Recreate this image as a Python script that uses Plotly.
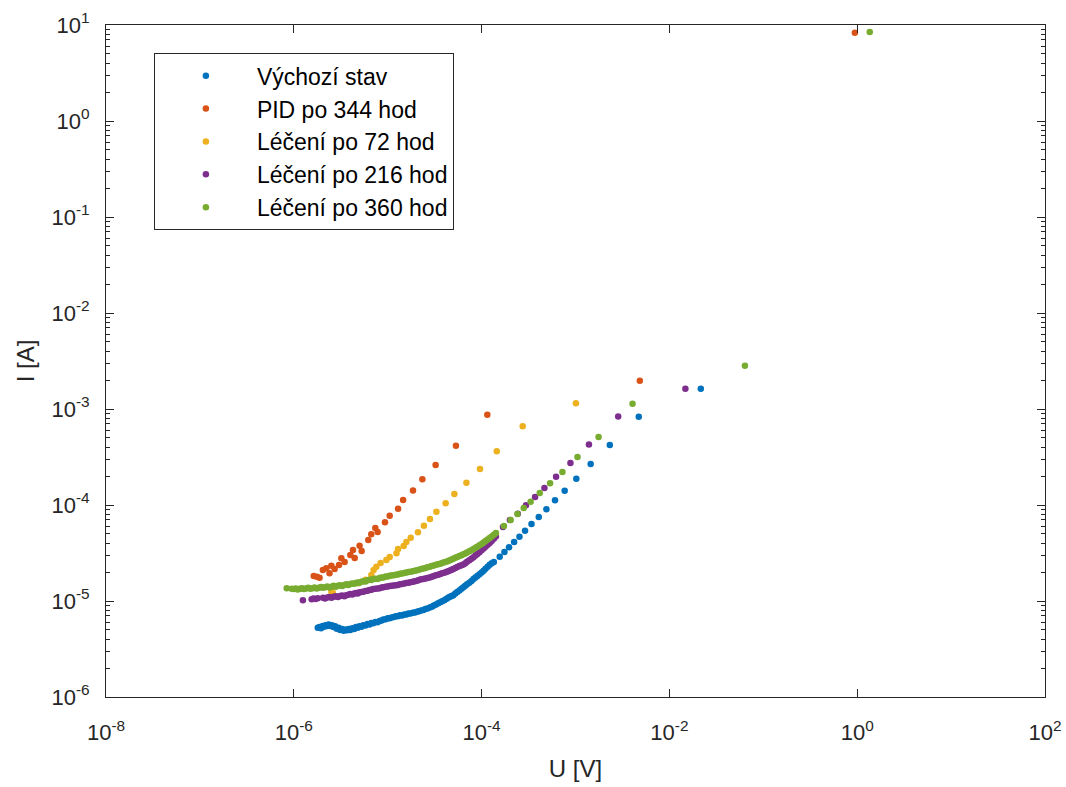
import plotly.graph_objects as go

# I-U measurements (U in volts, I in amperes) for each state of the sample
vychozi_stav = [
    (1.80e-6, 5.25e-6), (1.88e-6, 5.35e-6), (1.95e-6, 5.20e-6), (2.03e-6, 5.50e-6),
    (2.10e-6, 5.40e-6), (2.18e-6, 5.60e-6), (2.26e-6, 5.50e-6), (2.35e-6, 5.70e-6),
    (2.45e-6, 5.50e-6), (2.55e-6, 5.60e-6), (2.65e-6, 5.35e-6), (2.75e-6, 5.45e-6),
    (2.87e-6, 5.15e-6), (3.00e-6, 5.25e-6), (3.12e-6, 5.00e-6), (3.25e-6, 5.10e-6),
    (3.40e-6, 4.90e-6), (3.55e-6, 5.05e-6), (3.70e-6, 4.95e-6), (3.85e-6, 5.10e-6),
    (4.00e-6, 5.00e-6), (4.20e-6, 5.20e-6), (4.40e-6, 5.10e-6), (4.60e-6, 5.35e-6),
    (4.80e-6, 5.25e-6), (5.00e-6, 5.45e-6), (5.25e-6, 5.40e-6), (5.50e-6, 5.60e-6),
    (5.80e-6, 5.55e-6), (6.10e-6, 5.75e-6), (6.40e-6, 5.70e-6), (6.70e-6, 5.90e-6),
    (7.00e-6, 5.85e-6), (7.40e-6, 6.05e-6), (7.80e-6, 6.00e-6), (8.20e-6, 6.20e-6),
    (8.60e-6, 6.25e-6), (9.00e-6, 6.40e-6), (9.50e-6, 6.45e-6),
    (1.00e-5, 6.60e-6), (1.05e-5, 6.60e-6), (1.10e-5, 6.75e-6), (1.16e-5, 6.80e-6),
    (1.22e-5, 6.95e-6), (1.28e-5, 6.95e-6), (1.35e-5, 7.10e-6), (1.42e-5, 7.05e-6),
    (1.50e-5, 7.25e-6), (1.58e-5, 7.25e-6), (1.66e-5, 7.40e-6), (1.75e-5, 7.40e-6),
    (1.85e-5, 7.55e-6), (1.95e-5, 7.60e-6), (2.05e-5, 7.75e-6), (2.15e-5, 7.80e-6),
    (2.27e-5, 7.95e-6), (2.40e-5, 8.05e-6), (2.52e-5, 8.25e-6), (2.65e-5, 8.35e-6),
    (2.80e-5, 8.55e-6), (2.95e-5, 8.70e-6), (3.10e-5, 8.95e-6), (3.27e-5, 9.20e-6),
    (3.45e-5, 9.45e-6), (3.62e-5, 9.70e-6), (3.80e-5, 9.95e-6), (4.00e-5, 1.02e-5),
    (4.20e-5, 1.05e-5), (4.40e-5, 1.08e-5), (4.60e-5, 1.11e-5), (4.80e-5, 1.13e-5),
    (5.00e-5, 1.15e-5), (5.25e-5, 1.20e-5), (5.50e-5, 1.24e-5), (5.80e-5, 1.29e-5),
    (6.10e-5, 1.34e-5), (6.40e-5, 1.39e-5), (6.70e-5, 1.44e-5), (7.00e-5, 1.49e-5),
    (7.40e-5, 1.55e-5), (7.80e-5, 1.62e-5), (8.20e-5, 1.69e-5), (8.60e-5, 1.76e-5),
    (9.00e-5, 1.82e-5), (9.50e-5, 1.90e-5),
    (1.00e-4, 1.98e-5), (1.05e-4, 2.07e-5), (1.10e-4, 2.17e-5), (1.16e-4, 2.28e-5),
    (1.22e-4, 2.38e-5), (1.28e-4, 2.47e-5), (1.35e-4, 2.55e-5),
    (1.56e-4, 2.89e-5), (1.75e-4, 3.24e-5), (1.96e-4, 3.62e-5), (2.22e-4, 4.12e-5),
    (2.53e-4, 4.68e-5), (2.90e-4, 5.40e-5), (3.40e-4, 6.34e-5), (4.06e-4, 7.50e-5),
    (4.90e-4, 9.02e-5), (6.05e-4, 1.12e-4), (7.67e-4, 1.41e-4), (1.02e-3, 1.88e-4),
    (1.45e-3, 2.67e-4), (2.32e-3, 4.22e-4), (4.72e-3, 8.32e-4), (2.16e-2, 1.63e-3),
]

pid_344 = [
    (1.63e-6, 1.82e-5), (1.76e-6, 1.79e-5), (1.88e-6, 1.75e-5), (2.04e-6, 2.10e-5),
    (2.22e-6, 2.19e-5), (2.40e-6, 1.94e-5), (2.51e-6, 2.33e-5), (2.72e-6, 2.15e-5),
    (3.03e-6, 2.37e-5), (3.21e-6, 2.79e-5), (3.48e-6, 2.55e-5), (4.00e-6, 3.01e-5),
    (4.27e-6, 3.40e-5), (4.45e-6, 2.81e-5), (5.02e-6, 3.77e-5), (5.28e-6, 3.32e-5),
    (6.21e-6, 4.32e-5), (6.68e-6, 4.95e-5), (7.38e-6, 5.75e-5), (7.81e-6, 5.24e-5),
    (9.35e-6, 6.61e-5), (1.05e-5, 7.74e-5), (1.29e-5, 9.14e-5), (1.46e-5, 1.13e-4),
    (1.86e-5, 1.42e-4), (2.34e-5, 1.85e-4), (3.24e-5, 2.61e-4), (5.33e-5, 4.15e-4),
    (1.15e-4, 8.71e-4), (4.84e-3, 1.97e-3), (0.944, 8.32),
]

leceni_72 = [
    (2.51e-6, 1.25e-5), (2.60e-6, 1.22e-5), (4.82e-6, 1.53e-5), (5.82e-6, 1.66e-5),
    (6.70e-6, 1.87e-5), (7.08e-6, 2.10e-5), (7.57e-6, 2.28e-5), (8.41e-6, 2.49e-5),
    (9.68e-6, 2.67e-5), (1.05e-5, 2.87e-5), (1.24e-5, 3.14e-5), (1.29e-5, 3.48e-5),
    (1.48e-5, 3.74e-5), (1.58e-5, 4.12e-5), (1.76e-5, 4.56e-5), (2.10e-5, 5.20e-5),
    (2.43e-5, 6.08e-5), (2.82e-5, 7.14e-5), (3.30e-5, 8.51e-5), (4.14e-5, 1.04e-4),
    (5.13e-5, 1.30e-4), (6.89e-5, 1.71e-4), (9.62e-5, 2.37e-4), (1.45e-4, 3.62e-4),
    (2.74e-4, 6.61e-4), (1.01e-3, 1.15e-3),
]

leceni_216 = [
    (1.25e-6, 1.02e-5), (1.55e-6, 1.04e-5), (1.62e-6, 1.06e-5), (1.70e-6, 1.05e-5),
    (1.80e-6, 1.07e-5), (2.05e-6, 1.08e-5), (2.15e-6, 1.06e-5), (2.27e-6, 1.09e-5),
    (2.40e-6, 1.10e-5), (2.52e-6, 1.08e-5), (2.65e-6, 1.11e-5), (2.80e-6, 1.12e-5),
    (2.95e-6, 1.10e-5), (3.10e-6, 1.13e-5), (3.27e-6, 1.14e-5), (3.45e-6, 1.12e-5),
    (3.62e-6, 1.15e-5), (3.80e-6, 1.16e-5), (4.00e-6, 1.18e-5), (4.20e-6, 1.17e-5),
    (4.40e-6, 1.20e-5), (4.60e-6, 1.21e-5), (4.80e-6, 1.20e-5), (5.00e-6, 1.23e-5),
    (5.25e-6, 1.24e-5), (5.50e-6, 1.25e-5), (5.80e-6, 1.27e-5), (6.10e-6, 1.28e-5),
    (6.40e-6, 1.30e-5), (6.70e-6, 1.31e-5), (7.00e-6, 1.33e-5), (7.40e-6, 1.34e-5),
    (7.80e-6, 1.35e-5), (8.20e-6, 1.36e-5), (8.60e-6, 1.38e-5), (9.00e-6, 1.39e-5),
    (9.50e-6, 1.41e-5),
    (1.00e-5, 1.42e-5), (1.05e-5, 1.43e-5), (1.10e-5, 1.44e-5), (1.16e-5, 1.45e-5),
    (1.22e-5, 1.46e-5), (1.28e-5, 1.47e-5), (1.35e-5, 1.49e-5), (1.42e-5, 1.50e-5),
    (1.50e-5, 1.52e-5), (1.58e-5, 1.54e-5), (1.66e-5, 1.55e-5), (1.75e-5, 1.57e-5),
    (1.85e-5, 1.59e-5), (1.95e-5, 1.61e-5), (2.05e-5, 1.63e-5), (2.15e-5, 1.65e-5),
    (2.27e-5, 1.68e-5), (2.40e-5, 1.70e-5), (2.52e-5, 1.72e-5), (2.65e-5, 1.74e-5),
    (2.80e-5, 1.76e-5), (2.95e-5, 1.79e-5), (3.10e-5, 1.82e-5), (3.27e-5, 1.85e-5),
    (3.45e-5, 1.88e-5), (3.62e-5, 1.91e-5), (3.80e-5, 1.94e-5), (4.00e-5, 1.97e-5),
    (4.20e-5, 2.00e-5), (4.40e-5, 2.04e-5), (4.60e-5, 2.08e-5), (4.80e-5, 2.12e-5),
    (5.00e-5, 2.16e-5), (5.25e-5, 2.21e-5), (5.50e-5, 2.26e-5), (5.80e-5, 2.31e-5),
    (6.10e-5, 2.36e-5), (6.40e-5, 2.40e-5), (6.70e-5, 2.48e-5), (7.00e-5, 2.56e-5),
    (7.40e-5, 2.66e-5), (7.80e-5, 2.76e-5), (8.20e-5, 2.86e-5), (8.60e-5, 2.97e-5),
    (9.00e-5, 3.08e-5), (9.50e-5, 3.22e-5),
    (1.00e-4, 3.37e-5), (1.05e-4, 3.52e-5), (1.10e-4, 3.68e-5), (1.16e-4, 3.86e-5),
    (1.22e-4, 4.02e-5), (1.28e-4, 4.22e-5), (1.35e-4, 4.45e-5), (1.42e-4, 4.70e-5),
    (1.69e-4, 5.90e-5), (2.00e-4, 6.98e-5), (2.43e-4, 8.11e-5), (2.97e-4, 9.93e-5),
    (3.71e-4, 1.21e-4), (4.67e-4, 1.50e-4), (6.21e-4, 1.97e-4), (8.83e-4, 2.74e-4),
    (1.39e-3, 4.27e-4), (2.85e-3, 8.36e-4), (1.48e-2, 1.63e-3),
]

leceni_360 = [
    (8.40e-7, 1.36e-5), (9.50e-7, 1.34e-5), (1.00e-6, 1.33e-5), (1.05e-6, 1.35e-5),
    (1.10e-6, 1.32e-5), (1.16e-6, 1.34e-5), (1.22e-6, 1.36e-5), (1.28e-6, 1.33e-5),
    (1.35e-6, 1.35e-5), (1.42e-6, 1.37e-5), (1.50e-6, 1.34e-5), (1.58e-6, 1.36e-5),
    (1.66e-6, 1.38e-5), (1.75e-6, 1.35e-5), (1.85e-6, 1.37e-5), (1.95e-6, 1.40e-5),
    (2.05e-6, 1.37e-5), (2.15e-6, 1.39e-5), (2.27e-6, 1.42e-5), (2.40e-6, 1.38e-5),
    (2.52e-6, 1.41e-5), (2.65e-6, 1.44e-5), (2.80e-6, 1.41e-5), (2.95e-6, 1.44e-5),
    (3.10e-6, 1.46e-5), (3.27e-6, 1.43e-5), (3.45e-6, 1.47e-5), (3.62e-6, 1.49e-5),
    (3.80e-6, 1.47e-5), (4.00e-6, 1.50e-5), (4.20e-6, 1.52e-5), (4.40e-6, 1.51e-5),
    (4.60e-6, 1.54e-5), (4.80e-6, 1.56e-5), (5.00e-6, 1.55e-5), (5.25e-6, 1.59e-5),
    (5.50e-6, 1.61e-5), (5.80e-6, 1.60e-5), (6.10e-6, 1.64e-5), (6.40e-6, 1.66e-5),
    (6.70e-6, 1.65e-5), (7.00e-6, 1.69e-5), (7.40e-6, 1.71e-5), (7.80e-6, 1.70e-5),
    (8.20e-6, 1.74e-5), (8.60e-6, 1.76e-5), (9.00e-6, 1.76e-5), (9.50e-6, 1.80e-5),
    (1.00e-5, 1.80e-5), (1.05e-5, 1.83e-5), (1.10e-5, 1.84e-5), (1.16e-5, 1.86e-5),
    (1.22e-5, 1.88e-5), (1.28e-5, 1.89e-5), (1.35e-5, 1.92e-5), (1.42e-5, 1.93e-5),
    (1.50e-5, 1.96e-5), (1.58e-5, 1.98e-5), (1.66e-5, 2.00e-5), (1.75e-5, 2.02e-5),
    (1.85e-5, 2.04e-5), (1.95e-5, 2.07e-5), (2.05e-5, 2.09e-5), (2.15e-5, 2.12e-5),
    (2.27e-5, 2.15e-5), (2.40e-5, 2.18e-5), (2.52e-5, 2.21e-5), (2.65e-5, 2.25e-5),
    (2.80e-5, 2.28e-5), (2.95e-5, 2.31e-5), (3.10e-5, 2.35e-5), (3.27e-5, 2.38e-5),
    (3.45e-5, 2.42e-5), (3.62e-5, 2.45e-5), (3.80e-5, 2.49e-5), (4.00e-5, 2.53e-5),
    (4.20e-5, 2.57e-5), (4.40e-5, 2.61e-5), (4.60e-5, 2.66e-5), (4.80e-5, 2.71e-5),
    (5.00e-5, 2.76e-5), (5.25e-5, 2.82e-5), (5.50e-5, 2.88e-5), (5.80e-5, 2.95e-5),
    (6.10e-5, 3.00e-5), (6.40e-5, 3.06e-5), (6.70e-5, 3.13e-5), (7.00e-5, 3.20e-5),
    (7.40e-5, 3.29e-5), (7.80e-5, 3.38e-5), (8.20e-5, 3.48e-5), (8.60e-5, 3.58e-5),
    (9.00e-5, 3.68e-5), (9.50e-5, 3.80e-5),
    (1.00e-4, 3.93e-5), (1.05e-4, 4.07e-5), (1.10e-4, 4.22e-5), (1.16e-4, 4.38e-5),
    (1.22e-4, 4.53e-5), (1.28e-4, 4.70e-5), (1.35e-4, 4.90e-5), (1.42e-4, 5.12e-5),
    (1.73e-4, 6.04e-5), (2.04e-4, 6.98e-5), (2.41e-4, 8.05e-5), (2.81e-4, 9.31e-5),
    (3.33e-4, 1.08e-4), (4.16e-4, 1.33e-4), (5.36e-4, 1.68e-4), (7.26e-4, 2.21e-4),
    (1.05e-3, 3.16e-4), (1.76e-3, 5.11e-4), (4.05e-3, 1.135e-3), (6.37e-2, 2.82e-3),
    (1.36, 8.45),
]

series_names = ["Výchozí stav", "PID po 344 hod", "Léčení po 72 hod",
                "Léčení po 216 hod", "Léčení po 360 hod"]
series_data = [vychozi_stav, pid_344, leceni_72, leceni_216, leceni_360]
series_colors = ["#0072BD", "#D95319", "#EDB120", "#7E2F8E", "#77AC30"]

x_tick_vals = [1e-8, 1e-6, 1e-4, 1e-2, 1e0, 1e2]
x_tick_text = ["10<sup>-8</sup>", "10<sup>-6</sup>", "10<sup>-4</sup>",
               "10<sup>-2</sup>", "10<sup>0</sup>", "10<sup>2</sup>"]
y_tick_vals = [1e-6, 1e-5, 1e-4, 1e-3, 1e-2, 1e-1, 1e0, 1e1]
y_tick_text = ["10<sup>-6</sup>", "10<sup>-5</sup>", "10<sup>-4</sup>", "10<sup>-3</sup>",
               "10<sup>-2</sup>", "10<sup>-1</sup>", "10<sup>0</sup>", "10<sup>1</sup>"]

AXIS_COLOR = "#262626"
FONT = "Liberation Sans, Arial, Helvetica, sans-serif"

fig = go.Figure()
for name, pts, color in zip(series_names, series_data, series_colors):
    u_vals = [p[0] for p in pts]
    i_vals = [p[1] for p in pts]
    fig.add_trace(go.Scatter(
        x=u_vals, y=i_vals, mode="markers", name=name,
        marker=dict(color=color, size=6.5, line=dict(width=0)),
    ))

common_axis = dict(
    type="log", showgrid=False, zeroline=False, automargin=False,
    showline=True, linecolor=AXIS_COLOR, linewidth=1, mirror="ticks",
    ticks="inside", tickcolor=AXIS_COLOR, tickwidth=1, ticklen=8,
    tickfont=dict(size=22, color=AXIS_COLOR, family=FONT),
    tickmode="array",
)

fig.update_xaxes(
    **common_axis, range=[-8, 2], tickvals=x_tick_vals, ticktext=x_tick_text,
    ticklabelstandoff=16,
    title=dict(text="U [V]", font=dict(size=24, color=AXIS_COLOR, family=FONT), standoff=15),
)
fig.update_yaxes(
    **common_axis, range=[-6, 1], tickvals=y_tick_vals, ticktext=y_tick_text,
    ticklabelstandoff=11,
    minor=dict(ticks="inside", ticklen=4, tickcolor=AXIS_COLOR, tickwidth=1,
               dtick="D1", showgrid=False),
    title=dict(text="I [A]", font=dict(size=24, color=AXIS_COLOR, family=FONT), standoff=10),
)

fig.update_layout(
    width=1066, height=787,
    margin=dict(l=106, r=21, t=25, b=90),
    paper_bgcolor="white", plot_bgcolor="white",
    font=dict(family=FONT, color=AXIS_COLOR, size=22),
    showlegend=True,
    legend=dict(
        x=0.051, y=0.958, xanchor="left", yanchor="top",
        bgcolor="white", bordercolor=AXIS_COLOR, borderwidth=1,
        font=dict(size=23, color="#000000", family=FONT),
        itemwidth=92,
    ),
)

fig.write_html("out.html", post_script="document.body.style.margin='0';")
